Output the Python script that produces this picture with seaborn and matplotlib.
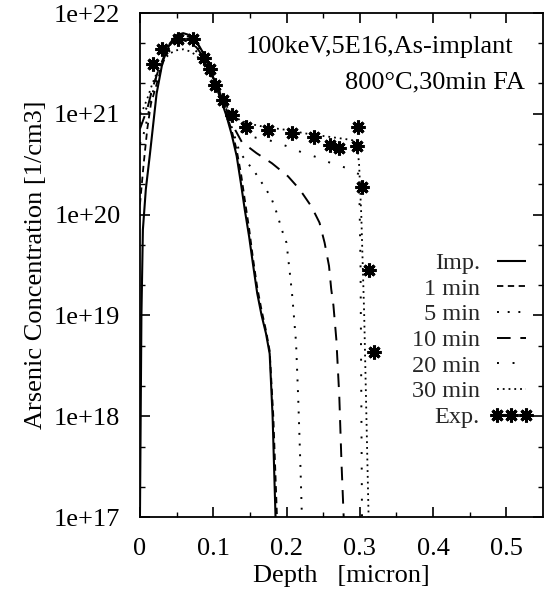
import numpy as np
import pandas as pd
import matplotlib
matplotlib.use("Agg")
import matplotlib.pyplot as plt
import seaborn as sns
from matplotlib.ticker import FixedLocator, LogLocator, NullFormatter

sns.set_theme(style="ticks")
plt.rcParams['font.family'] = ['Liberation Serif', 'DejaVu Serif']
plt.rcParams['mathtext.fontset'] = 'stix'

# ---- data (depth in micron, log10 of concentration in 1/cm3) ----
imp_x = [0, 0.002, 0.004, 0.008, 0.0136, 0.0227, 0.031, 0.041, 0.05, 0.059, 0.068, 0.077, 0.085,
         0.091, 0.098, 0.104, 0.111, 0.118, 0.125, 0.132, 0.138, 0.143, 0.149, 0.154, 0.160, 0.166,
         0.172, 0.177, 0.181, 0.185]
imp_log = [17.0, 19.0, 19.85, 20.25, 20.6, 21.2, 21.52, 21.7, 21.78, 21.80, 21.78, 21.72, 21.62,
           21.53, 21.40, 21.27, 21.13, 20.98, 20.80, 20.58, 20.30, 20.05, 19.78, 19.52, 19.22, 19.0,
           18.82, 18.62, 18.0, 17.0]

m1_x = [0, 0.005, 0.01, 0.015, 0.023, 0.031, 0.041, 0.05, 0.059, 0.068, 0.077, 0.085, 0.091, 0.098,
        0.104, 0.111, 0.118, 0.125, 0.132, 0.138, 0.143, 0.149, 0.154, 0.160, 0.166, 0.172, 0.177,
        0.182, 0.187]
m1_log = [20.1, 20.5, 20.85, 21.1, 21.3, 21.5, 21.68, 21.76, 21.78, 21.76, 21.71, 21.62, 21.53, 21.41,
          21.28, 21.14, 21.0, 20.84, 20.64, 20.4, 20.15, 19.86, 19.58, 19.28, 19.05, 18.85, 18.65,
          18.0, 17.0]

m5_x = [0, 0.005, 0.01, 0.017, 0.025, 0.033, 0.041, 0.05, 0.059, 0.068, 0.077, 0.085, 0.093, 0.1,
        0.108, 0.115, 0.122, 0.129, 0.136, 0.146, 0.156, 0.165, 0.173, 0.18, 0.186, 0.195, 0.2,
        0.203, 0.205, 0.208, 0.213, 0.216, 0.219, 0.221]
m5_log = [20.7, 20.8, 20.95, 21.2, 21.4, 21.56, 21.68, 21.75, 21.76, 21.74, 21.69, 21.6, 21.48, 21.36,
          21.22, 21.08, 20.94, 20.78, 20.62, 20.52, 20.43, 20.33, 20.24, 20.15, 20.03, 19.82, 19.72,
          19.52, 19.39, 19.18, 18.73, 18.17, 17.5, 17.0]

m10_x = [0, 0.005, 0.01, 0.017, 0.025, 0.033, 0.041, 0.05, 0.059, 0.068, 0.077, 0.085, 0.093, 0.1,
         0.108, 0.115, 0.122, 0.13, 0.139, 0.159, 0.18, 0.202, 0.218, 0.234, 0.245, 0.252, 0.258,
         0.261, 0.264, 0.268, 0.272, 0.275, 0.278]
m10_log = [20.85, 20.95, 21.05, 21.25, 21.43, 21.57, 21.67, 21.72, 21.73, 21.71, 21.66, 21.58, 21.47,
           21.36, 21.23, 21.1, 20.97, 20.84, 20.72, 20.61, 20.51, 20.38, 20.25, 20.08, 19.92, 19.72,
           19.49, 19.26, 19.1, 18.76, 18.2, 17.54, 17.0]

m20_x = [0, 0.005, 0.01, 0.017, 0.025, 0.033, 0.041, 0.05, 0.059, 0.068, 0.077, 0.085, 0.093, 0.1,
         0.108, 0.115, 0.122, 0.13, 0.143, 0.16, 0.18, 0.2, 0.22, 0.241, 0.261, 0.283, 0.299, 0.301,
         0.303]
m20_log = [20.9, 20.98, 21.08, 21.25, 21.42, 21.54, 21.63, 21.68, 21.69, 21.67, 21.62, 21.55, 21.45,
           21.35, 21.23, 21.1, 20.98, 20.88, 20.79, 20.76, 20.73, 20.68, 20.62, 20.57, 20.51, 20.46,
           20.40, 19.5, 17.0]

m30_x = [0, 0.005, 0.01, 0.017, 0.025, 0.033, 0.041, 0.05, 0.059, 0.068, 0.077, 0.085, 0.093, 0.1,
         0.108, 0.115, 0.122, 0.13, 0.138, 0.15, 0.17, 0.2, 0.23, 0.26, 0.28, 0.296, 0.299, 0.302,
         0.306, 0.309, 0.312]
m30_log = [21.0, 21.06, 21.15, 21.3, 21.44, 21.54, 21.6, 21.63, 21.64, 21.62, 21.58, 21.51, 21.42,
           21.33, 21.22, 21.12, 21.03, 20.97, 20.93, 20.9, 20.87, 20.84, 20.8, 20.77, 20.75, 20.73,
           20.5, 20.0, 19.0, 18.0, 17.0]

exp_x = [0.0177, 0.030, 0.052, 0.072, 0.088, 0.095, 0.102, 0.113, 0.125, 0.145, 0.175, 0.208, 0.238,
         0.260, 0.272, 0.297, 0.296, 0.303, 0.313, 0.320]
exp_log = [21.49, 21.64, 21.74, 21.74, 21.55, 21.44, 21.29, 21.14, 20.99, 20.87, 20.84, 20.81, 20.77,
           20.69, 20.66, 20.87, 20.68, 20.27, 19.45, 18.64]

labels = ["Imp.", "1 min", "5 min", "10 min", "20 min", "30 min", "Exp."]
x_ticks = [0, 0.1, 0.2, 0.3, 0.4, 0.5]
x_tick_labels = ["0", "0.1", "0.2", "0.3", "0.4", "0.5"]
y_ticks = [1e17, 1e18, 1e19, 1e20, 1e21, 1e22]
y_tick_labels = ["1e+17", "1e+18", "1e+19", "1e+20", "1e+21", "1e+22"]
title1 = "100keV,5E16,As-implant"
title2 = "800°C,30min FA"

series = [
    (imp_x, imp_log, (0, ()), 1.5),
    (m1_x, m1_log, (0, (3.5, 2.5)), 1.3),
    (m5_x, m5_log, (0, (1, 4.5)), 1.4),
    (m10_x, m10_log, (0, (7, 5)), 1.4),
    (m20_x, m20_log, (0, (1, 7)), 1.4),
    (m30_x, m30_log, (0, (1, 2.2)), 1.3),
]

FS = 19

fig = plt.figure(figsize=(5.51, 5.91), dpi=100)
ax = fig.add_axes([0.254, 0.1252, 0.7315, 0.8528])

handles = []
for (xs, ls, style, lw) in series:
    df = pd.DataFrame({"x": xs, "y": 10.0 ** np.array(ls)})
    sns.lineplot(data=df, x="x", y="y", ax=ax, color="black", estimator=None, sort=False,
                 linewidth=lw)
    line = ax.lines[-1]
    line.set_linestyle(style)
    handles.append(line)

dfe = pd.DataFrame({"x": exp_x, "y": 10.0 ** np.array(exp_log)})
sns.lineplot(data=dfe, x="x", y="y", ax=ax, color="black", estimator=None, sort=False,
             linestyle="", marker=(8, 2, 0), markersize=10, markeredgewidth=2.2,
             markeredgecolor="black")
handles.append(ax.lines[-1])

ax.set_yscale("log")
ax.set_xlim(0, 0.55)
ax.set_ylim(1e17, 1e22)
ax.set_xticks(x_ticks)
ax.set_xticklabels(x_tick_labels)
ax.set_yticks(y_ticks)
ax.set_yticklabels(y_tick_labels)
ax.xaxis.set_minor_locator(FixedLocator([0.05, 0.15, 0.25, 0.35, 0.45]))
ax.yaxis.set_minor_locator(LogLocator(base=10, subs=(2.0, 5.0)))
ax.yaxis.set_minor_formatter(NullFormatter())
ax.tick_params(which="both", direction="in", top=True, right=True, colors="black",
               labelsize=FS)
ax.tick_params(axis="x", which="major", pad=15)
ax.tick_params(axis="y", which="major", pad=14)
ax.tick_params(which="major", length=7, width=1.2)
ax.tick_params(which="minor", length=3.5, width=1.0)
for sp in ax.spines.values():
    sp.set_color("black")
    sp.set_linewidth(1.3)

ax.set_xlabel("Depth   [micron]", fontsize=FS, color="black", labelpad=4)
ax.set_ylabel("Arsenic Concentration [1/cm3]", fontsize=FS, color="black", labelpad=5)

ax.text(0.595, 0.933, title1, transform=ax.transAxes, ha="center", va="center", fontsize=FS,
        color="black")
ax.text(0.955, 0.863, title2, transform=ax.transAxes, ha="right", va="center", fontsize=FS,
        color="black")

ax.legend(handles, labels, loc="upper right", bbox_to_anchor=(1.0, 0.545), frameon=False,
          markerfirst=False, numpoints=3, handlelength=1.8, labelspacing=0.15,
          fontsize=17.5, handletextpad=0.4, borderaxespad=0.0)

fig.savefig("out.png", dpi=100)
